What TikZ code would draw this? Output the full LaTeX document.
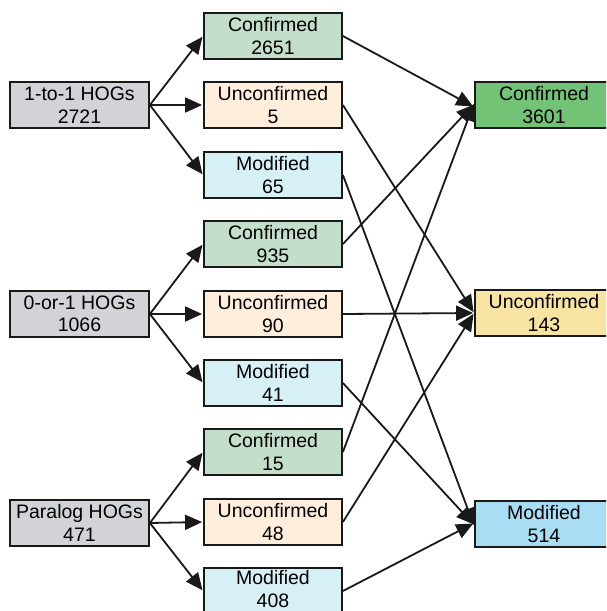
\documentclass[tikz,border=0pt]{standalone}
\usepackage{fontspec}
\setmainfont{Liberation Sans}
\usetikzlibrary{arrows.meta}
\definecolor{cgray}{HTML}{D1D3D6}
\definecolor{cmgreen}{HTML}{C3DECA}
\definecolor{cmorange}{HTML}{FFEEDC}
\definecolor{cmblue}{HTML}{D6F0F6}
\definecolor{crgreen}{HTML}{72C375}
\definecolor{cryellow}{HTML}{F8E4A2}
\definecolor{crblue}{HTML}{A9DDF3}
\tikzset{
  box/.style={draw=black!90, line width=1.8pt, rectangle, minimum width=138pt, minimum height=46pt,
    align=center, inner sep=0pt, font=\fontsize{19.5}{22.5}\selectfont},
  conn/.style={line width=1.8pt, draw=black!90, -{Triangle[length=17pt,width=15pt]}, shorten >=1pt}
}
\begin{document}
\begin{tikzpicture}[x=1pt,y=-1pt]
\clip (0,0) rectangle (606,611);
\fill[white] (0,0) rectangle (606,611);
% left
\node[box, fill=cgray, minimum width=139pt] (L1) at (79.5,105) {1-to-1 HOGs\\2721};
\node[box, fill=cgray, minimum width=139pt] (L2) at (79.5,314) {0-or-1 HOGs\\1066};
\node[box, fill=cgray, minimum width=139pt] (L3) at (79.5,523) {Paralog HOGs\\471};
% middle
\node[box, fill=cmgreen] (C1) at (273,36) {Confirmed\\2651};
\node[box, fill=cmorange] (U1) at (273,105) {Unconfirmed\\5};
\node[box, fill=cmblue] (M1) at (273,175) {Modified\\65};
\node[box, fill=cmgreen] (C2) at (273,244) {Confirmed\\935};
\node[box, fill=cmorange] (U2) at (273,314) {Unconfirmed\\90};
\node[box, fill=cmblue] (M2) at (273,383) {Modified\\41};
\node[box, fill=cmgreen] (C3) at (273,452) {Confirmed\\15};
\node[box, fill=cmorange] (U3) at (273,522) {Unconfirmed\\48};
\node[box, fill=cmblue, text depth=4.5pt] (M3) at (273,591) {Modified\\408};
% right
\node[box, fill=crgreen] (RC) at (544,105) {Confirmed\\3601};
\node[box, fill=cryellow] (RU) at (544,313) {Unconfirmed\\143};
\node[box, fill=crblue] (RM) at (544,524) {Modified\\514};
% left arrows
\foreach \l/\a/\b/\c in {L1/C1/U1/M1, L2/C2/U2/M2, L3/C3/U3/M3}{
  \draw[conn] (\l.east) -- (\a.west);
  \draw[conn] (\l.east) -- (\b.west);
  \draw[conn] (\l.east) -- (\c.west);
}
% right arrows
\draw[conn] (C1.east) -- ([yshift=-2pt]RC.west);
\draw[conn] (C2.east) -- ([yshift=1pt]RC.west);
\draw[conn] (C3.east) -- ([yshift=2pt]RC.west);
\draw[conn] (U1.east) -- (RU.west);
\draw[conn] (U2.east) -- (RU.west);
\draw[conn] (U3.east) -- (RU.west);
\draw[conn] (M1.east) -- ([yshift=-2pt]RM.west);
\draw[conn] (M2.east) -- ([yshift=-1pt]RM.west);
\draw[conn] (M3.east) -- ([yshift=1pt]RM.west);
\end{tikzpicture}
\end{document}
